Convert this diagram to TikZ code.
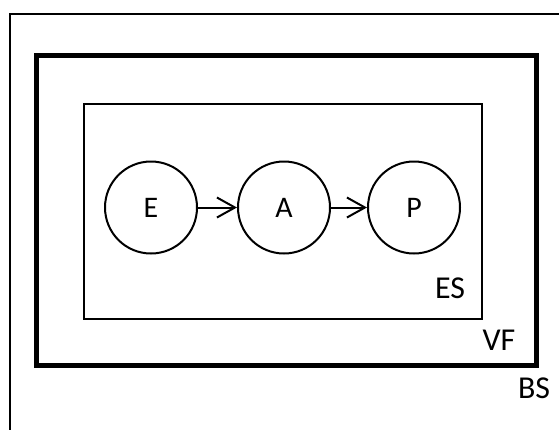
\documentclass[tikz,border=0pt]{standalone}
\usepackage{fontspec}
\setmainfont{Carlito}
\usetikzlibrary{arrows.meta}
\begin{document}
\begin{tikzpicture}[x=1bp,y=-1bp,
  thinline/.style={line width=2bp},
  thickline/.style={line width=5bp},
  state/.style={circle,draw,line width=2bp,minimum size=92bp,inner sep=0pt,font=\fontsize{30}{36}\selectfont},
  lbl/.style={inner sep=0pt,font=\fontsize{32}{38}\selectfont},
  flow/.style={line width=2bp,-{Straight Barb[length=18bp,width=20bp,line width=2bp]}}]
\useasboundingbox (0,0) rectangle (559,429);
\draw[thinline] (10,440) -- (10,13.5) -- (570,13.5);
\draw[thickline] (36.5,55) rectangle (536.5,365);
\draw[thinline] (84,104) rectangle (482,319);
\node[state] (E) at (151,207.5) {E};
\node[state] (A) at (284,207.5) {A};
\node[state] (P) at (414,207.5) {P};
\draw[flow] (E) -- (A);
\draw[flow] (A) -- (P);
\node[lbl] (ES) at (450,288.5) {ES};
\node[lbl] (VF) at (499,340) {VF};
\node[lbl] (BS) at (534,388) {BS};
\end{tikzpicture}
\end{document}
